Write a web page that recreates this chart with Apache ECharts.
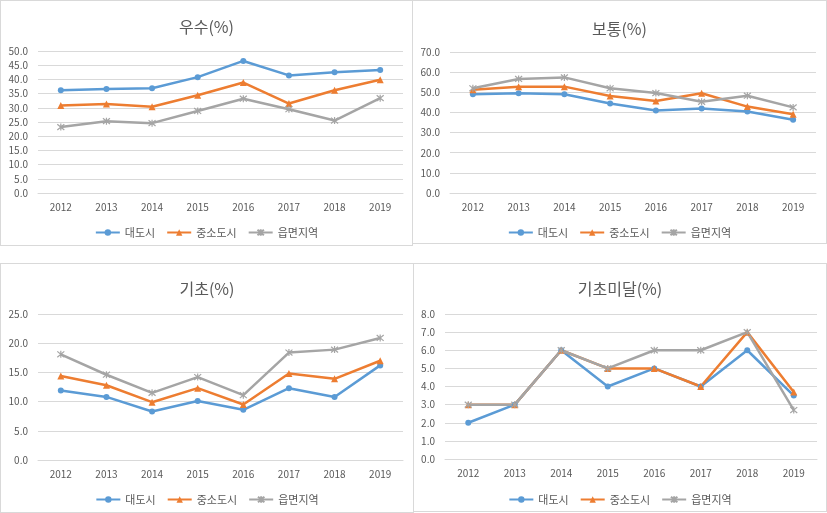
<!DOCTYPE html>
<html><head><meta charset="utf-8">
<script src="https://cdn.jsdelivr.net/npm/echarts@6/dist/echarts.min.js"></script>
<style>
html,body{margin:0;padding:0;background:#fff;width:827px;height:513px;overflow:hidden;}
.p{position:absolute;box-sizing:border-box;border:1px solid #d9d9d9;}
</style></head>
<body>
<div id="c1" class="p" style="left:0;top:0;width:413px;height:246px"></div>
<div id="c2" class="p" style="left:413px;top:0;width:414px;height:244px;border-left:none"></div>
<div id="c3" class="p" style="left:0;top:263px;width:414px;height:250px"></div>
<div id="c4" class="p" style="left:414px;top:263px;width:413px;height:249px;border-left:none"></div>
<script>
const years = ['2012','2013','2014','2015','2016','2017','2018','2019'];
const seriesNames = ['대도시','중소도시','읍면지역'];

const titleExcellent = '우수(%)';
const excellentBig = [36.2,36.6,36.9,40.8,46.5,41.4,42.5,43.3];
const excellentMid = [30.8,31.3,30.4,34.4,38.9,31.5,36.2,39.9];
const excellentRural = [23.2,25.3,24.6,28.9,33.2,29.5,25.5,33.4];

const titleNormal = '보통(%)';
const normalBig = [49.0,49.5,49.0,44.4,41.0,42.0,40.5,36.4];
const normalMid = [51.3,52.8,52.8,48.2,45.7,49.5,42.9,39.1];
const normalRural = [52.0,56.6,57.4,52.0,49.6,45.3,48.3,42.5];

const titleBasic = '기초(%)';
const basicBig = [11.9,10.8,8.3,10.1,8.6,12.3,10.8,16.2];
const basicMid = [14.4,12.8,9.9,12.3,9.5,14.8,13.9,17.0];
const basicRural = [18.1,14.6,11.5,14.2,11.1,18.4,18.9,20.9];

const titleBelow = '기초미달(%)';
const belowBig = [2.0,3.0,6.0,4.0,5.0,4.0,6.0,3.5];
const belowMid = [3.0,3.0,6.0,5.0,5.0,4.0,7.0,3.7];
const belowRural = [3.0,3.0,6.0,5.0,6.0,6.0,7.0,2.7];

const FONT = "'Noto Sans CJK KR', 'Noto Sans', sans-serif";
const colors = ['#5B9BD5','#ED7D31','#A5A5A5'];
const symbols = ['circle','triangle','path://M0,0L10,10M10,0L0,10M5,-1L5,11'];

function build(id, title, data, max, interval, grid, titleTop, legendTop){
  const chart = echarts.init(document.getElementById(id), null, {renderer:'canvas'});
  chart.setOption({
    animation:false,
    textStyle:{fontFamily:FONT},
    title:{text:title, left:'center', top:titleTop,
      textStyle:{fontFamily:FONT, fontSize:16, fontWeight:'normal', color:'#595959'}},
    legend:{top:legendTop, left:'center', itemWidth:24, itemHeight:8, itemGap:11,
      textStyle:{fontFamily:FONT, fontSize:11, color:'#595959'},
      data:seriesNames},
    grid:grid,
    xAxis:{type:'category', data:years, boundaryGap:true,
      axisLine:{lineStyle:{color:'#d9d9d9', width:1}}, axisTick:{show:false},
      axisLabel:{fontFamily:FONT, fontSize:10, color:'#595959', margin:9}},
    yAxis:{type:'value', min:0, max:max, interval:interval,
      axisLine:{show:false}, axisTick:{show:false},
      splitLine:{lineStyle:{color:'#d9d9d9', width:1}},
      axisLabel:{fontFamily:FONT, fontSize:10, color:'#595959', margin:10,
        formatter:v=>v.toFixed(1)}},
    series:data.map((d,i)=>({
      name:seriesNames[i], type:'line', data:d,
      symbol:symbols[i], symbolSize: i===0 ? 6 : 7,
      showAllSymbol:true,
      lineStyle:{color:colors[i], width:2.5},
      itemStyle:{color:colors[i], borderColor:colors[i], borderWidth: i===2 ? 1.2 : 0}
    }))
  });
}

build('c1', titleExcellent, [excellentBig, excellentMid, excellentRural], 50, 5,
  {left:37, right:9, top:50, bottom:52}, 13, 221);
build('c2', titleNormal, [normalBig, normalMid, normalRural], 70, 10,
  {left:37, right:10, top:51, bottom:50}, 15, 221);
build('c3', titleBasic, [basicBig, basicMid, basicRural], 25, 5,
  {left:37, right:10, top:50, bottom:52}, 12, 225);
build('c4', titleBelow, [belowBig, belowMid, belowRural], 8, 1,
  {left:31, right:9, top:50, bottom:52}, 12, 225);
</script>
</body></html>
